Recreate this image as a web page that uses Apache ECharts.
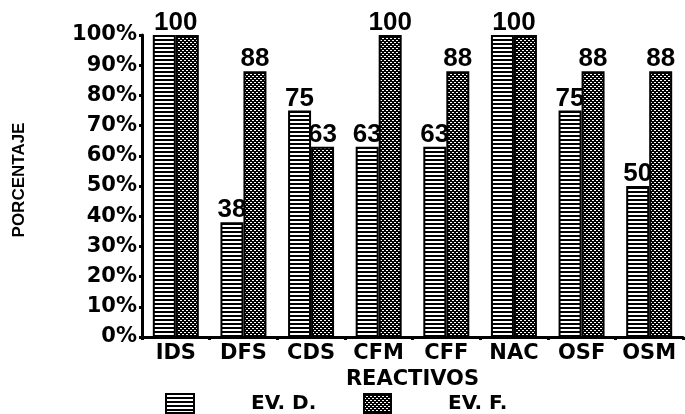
<!DOCTYPE html>
<html>
<head>
<meta charset="utf-8">
<script src="https://cdn.jsdelivr.net/npm/echarts@6/dist/echarts.min.js"></script>
<style>
  html, body { margin: 0; padding: 0; background: #fff; }
  #mainChart { width: 685px; height: 414px; }
</style>
</head>
<body>
<div id="mainChart"></div>
<script>
// datos
var categories = ['IDS', 'DFS', 'CDS', 'CFM', 'CFF', 'NAC', 'OSF', 'OSM'];
var evD = [100, 38, 75, 63, 63, 100, 75, 50];
var evF = [100, 88, 63, 100, 88, 100, 88, 88];
var yTicks = [0, 10, 20, 30, 40, 50, 60, 70, 80, 90, 100];

// tramas blanco y negro
function makePattern(draw) {
  var c = document.createElement('canvas');
  c.width = 4; c.height = 4;
  var ctx = c.getContext('2d');
  ctx.fillStyle = '#000';
  ctx.fillRect(0, 0, 4, 4);
  ctx.fillStyle = '#fff';
  draw(ctx);
  return { image: c, repeat: 'repeat' };
}
var stripes = makePattern(function (ctx) { ctx.fillRect(0, 1, 4, 2); });
var dots = makePattern(function (ctx) {
  ctx.fillRect(0, 0, 2, 1);
  ctx.fillRect(2, 2, 2, 1);
});

var barW = 23;
var labelStyle = {
  show: true,
  position: 'top',
  distance: -1,
  color: '#000',
  fontFamily: 'Liberation Sans',
  fontWeight: 'bold',
  fontSize: 26
};

// si las dos barras valen lo mismo se pone una sola etiqueta centrada
var dataD = evD.map(function (v, i) {
  return { value: v, label: { show: v !== evF[i] } };
});
var dataF = evF.map(function (v, i) {
  return { value: v, label: { offset: v === evD[i] ? [-barW / 2, 0] : [0, 0] } };
});

var chart = echarts.init(document.getElementById('mainChart'));
var heavy = { color: '#000', fontFamily: 'DejaVu Sans', fontWeight: 'bold' };

chart.setOption({
  animation: false,
  grid: { left: 142, right: 2, top: 35, bottom: 77 },
  legend: [
    {
      left: 160, top: 388, itemWidth: 28, itemHeight: 19, icon: 'rect',
      data: ['EV. D.'],
      textStyle: Object.assign({ fontSize: 20, padding: [0, 0, 0, 52] }, heavy)
    },
    {
      left: 358, top: 388, itemWidth: 27, itemHeight: 19, icon: 'rect',
      data: ['EV. F.'],
      textStyle: Object.assign({ fontSize: 20, padding: [0, 0, 0, 52] }, heavy)
    }
  ],
  xAxis: {
    type: 'category',
    data: categories,
    name: 'REACTIVOS',
    nameLocation: 'middle',
    nameGap: 30,
    nameTextStyle: Object.assign({ fontSize: 21 }, heavy),
    axisLine: { lineStyle: { color: '#000', width: 3 } },
    axisTick: { show: true, length: 3, lineStyle: { color: '#000', width: 3 } },
    axisLabel: Object.assign({ fontSize: 21, margin: 6, interval: 0 }, heavy)
  },
  yAxis: {
    type: 'value',
    min: yTicks[0],
    max: yTicks[yTicks.length - 1],
    interval: yTicks[1] - yTicks[0],
    name: 'PORCENTAJE',
    nameLocation: 'middle',
    nameRotate: 90,
    nameGap: 114,
    nameTextStyle: {
      color: '#000', fontFamily: 'Liberation Sans', fontWeight: 'bold', fontSize: 17,
      padding: [0, 0, 0, 12]
    },
    splitLine: { show: false },
    axisLine: { show: true, lineStyle: { color: '#000', width: 3 } },
    axisTick: { show: true, length: 3, lineStyle: { color: '#000', width: 3 } },
    axisLabel: Object.assign({ fontSize: 21, margin: 5, formatter: '{value}%' }, heavy)
  },
  series: [
    {
      name: 'EV. D.',
      type: 'bar',
      barWidth: barW,
      barGap: 0,
      data: dataD,
      itemStyle: { color: stripes, borderColor: '#000', borderWidth: 2 },
      label: labelStyle
    },
    {
      name: 'EV. F.',
      type: 'bar',
      barWidth: barW,
      barGap: 0,
      data: dataF,
      itemStyle: { color: dots, borderColor: '#000', borderWidth: 2 },
      label: labelStyle
    }
  ]
});
</script>
</body>
</html>
